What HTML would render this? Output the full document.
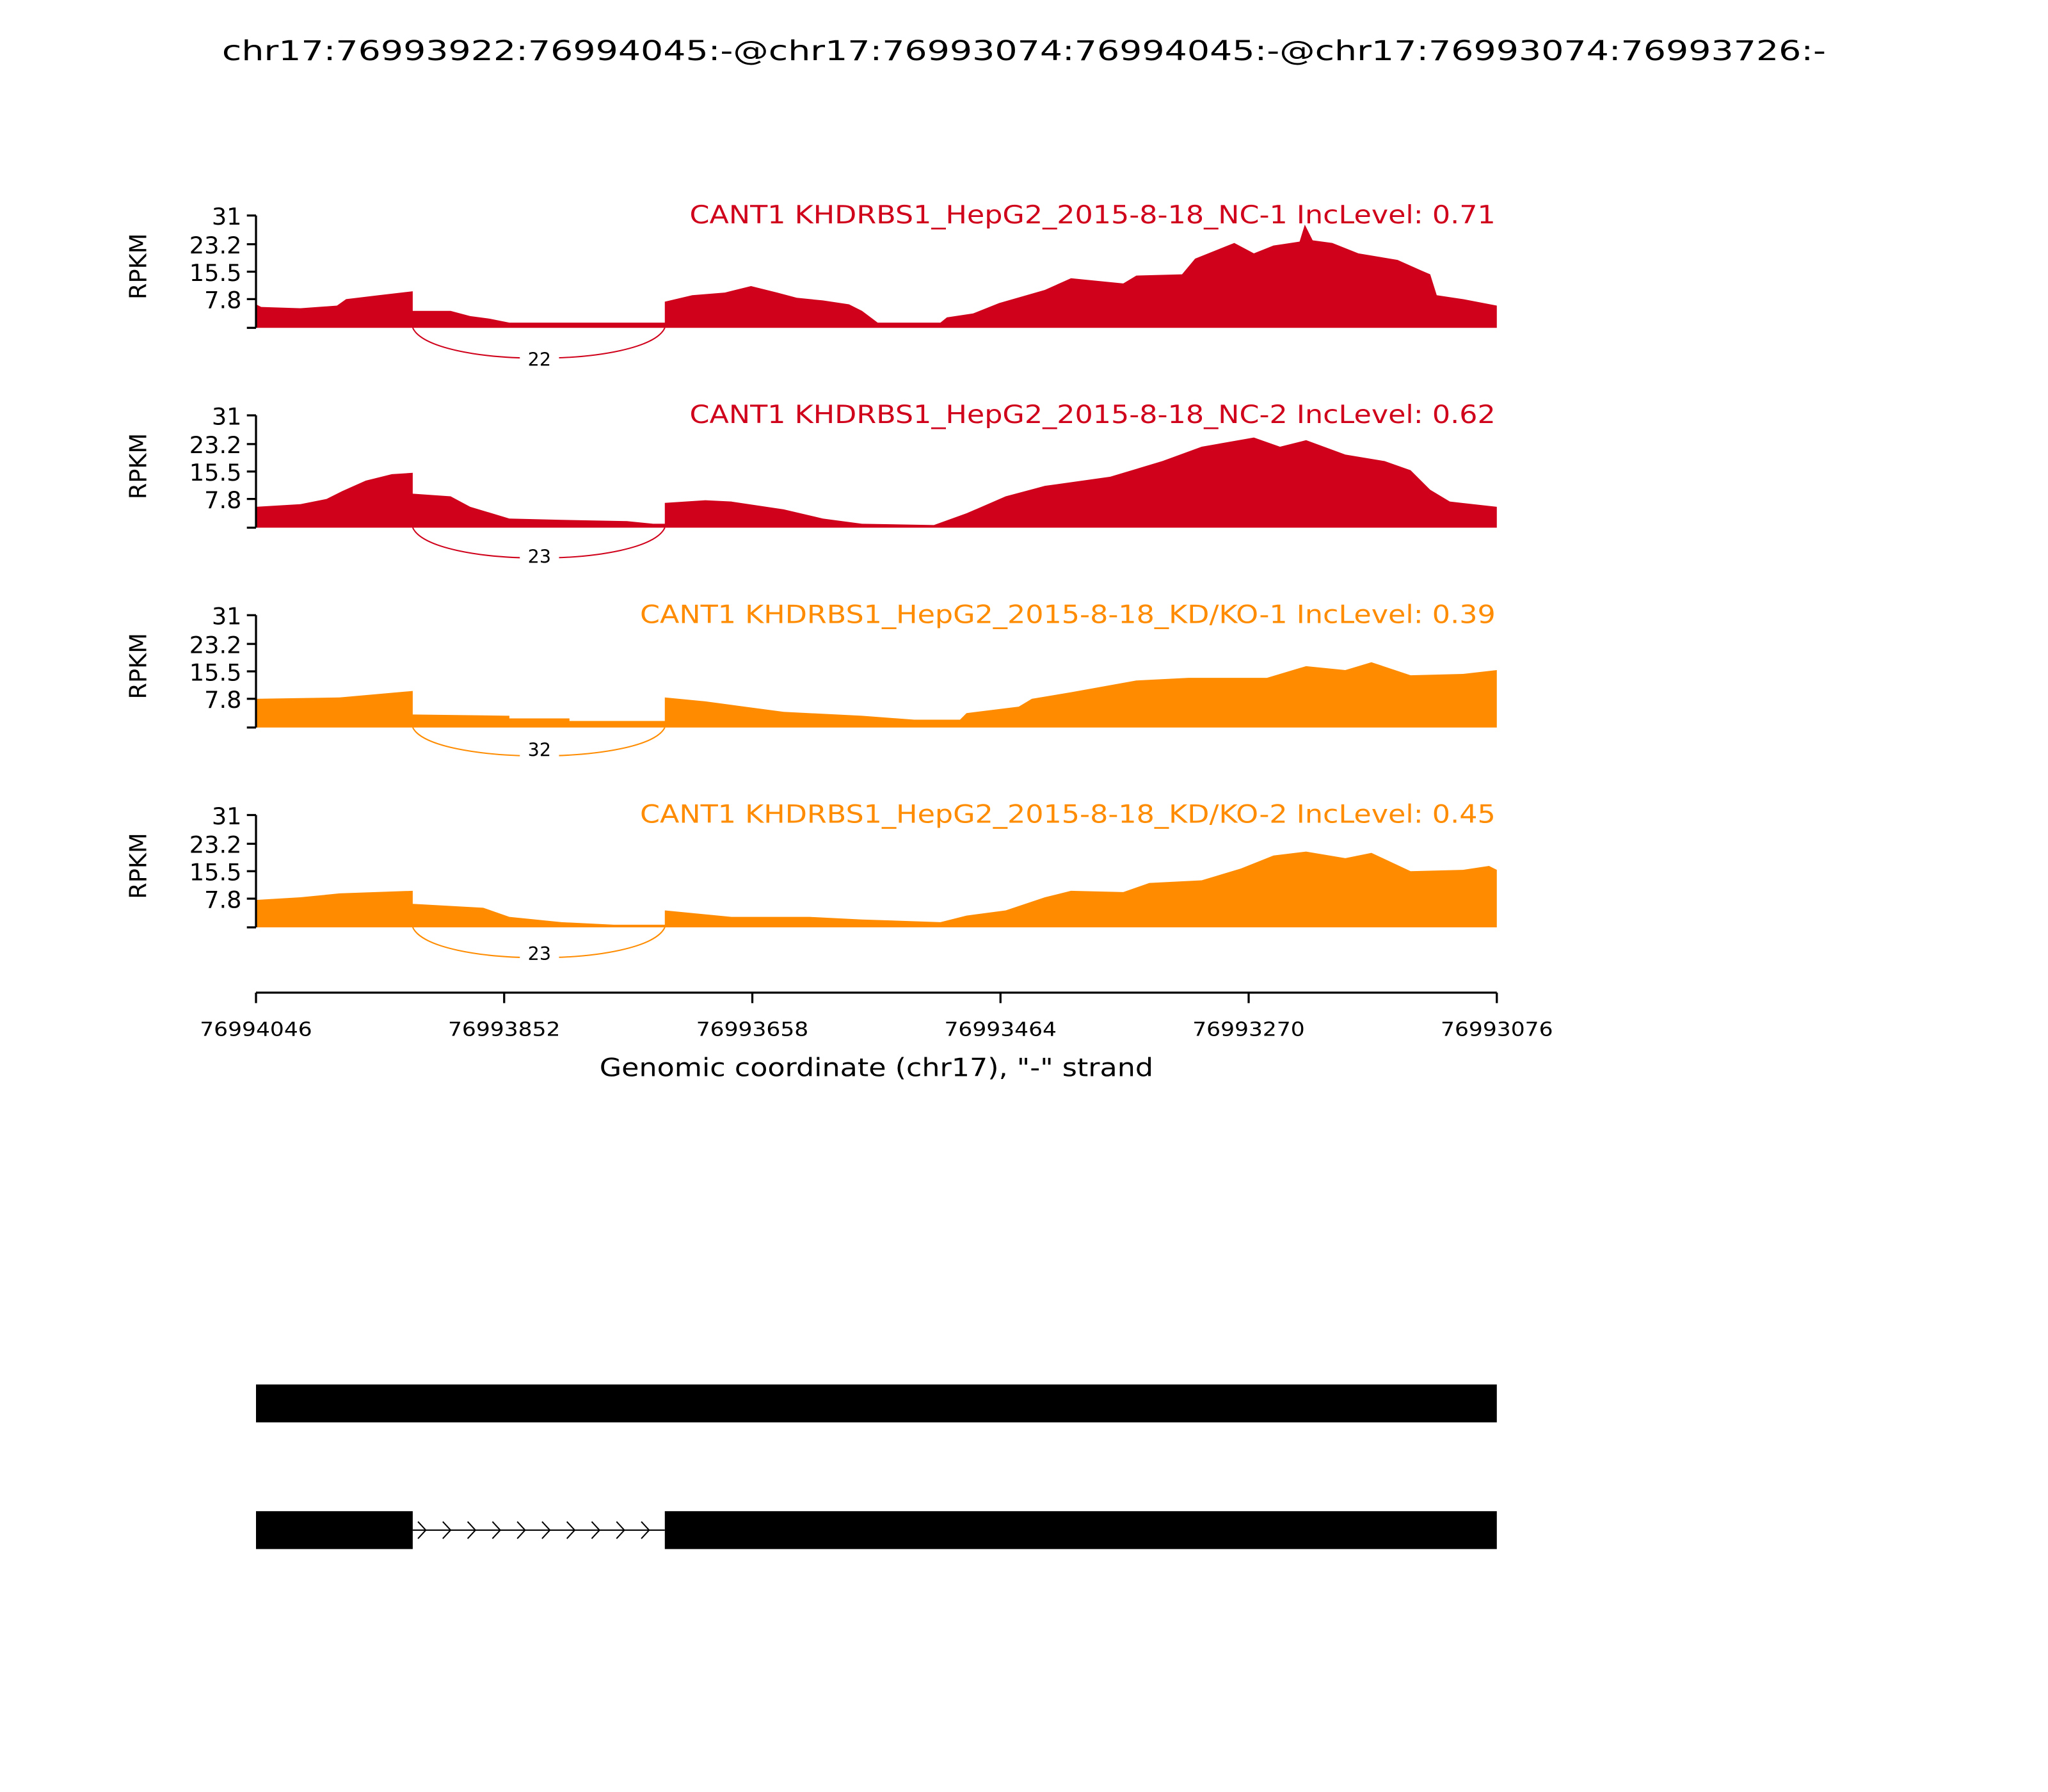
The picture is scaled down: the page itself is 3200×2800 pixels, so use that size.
<!DOCTYPE html>
<html><head><meta charset="utf-8"><style>html,body{margin:0;padding:0;background:#fff}svg{display:block}</style></head>
<body>
<svg xmlns="http://www.w3.org/2000/svg" width="3200" height="2800" viewBox="0 0 1568 1372" font-family="DejaVu Sans, Liberation Sans, sans-serif">
<rect width="1568" height="1372" fill="#fff"/>
<text x="170" y="46" font-size="21" textLength="1228" lengthAdjust="spacingAndGlyphs">chr17:76993922:76994045:-@chr17:76993074:76994045:-@chr17:76993074:76993726:-</text>

<!-- Panel 1 -->
<g>
<path fill="#d0021b" d="M196,251 L196,233 L200,235 L230,236 L258,234 L265,229 L290,226 L316,223 L316,238 L345,238 L360,242 L375,244 L390,247 L500,247 L509,247 L509,231 L530,226 L555,224 L575,219 L595,224 L610,228 L630,230 L650,233 L660,238 L672,247 L720,247 L725,243 L745,240 L765,232 L800,222 L820,213 L860,217 L870,211 L905,210 L915,198 L945,186 L960,194 L975,188 L995,185 L999,172 L1005,184 L1020,186 L1040,194 L1070,199 L1088,207 L1095,210 L1100,226 L1120,229 L1146,234 L1146,251 Z"/>
<path d="M316,251 C330,282 495,282 509,251" fill="none" stroke="#d0021b" stroke-width="1"/>
<rect x="398" y="266" width="30" height="16" fill="#fff"/>
<text x="413" y="280" font-size="14" text-anchor="middle">22</text>
<text x="528" y="171" font-size="19" fill="#d0021b" textLength="617" lengthAdjust="spacingAndGlyphs">CANT1 KHDRBS1_HepG2_2015-8-18_NC-1 IncLevel: 0.71</text>
</g>
<!-- Panel 2 -->
<g>
<path fill="#d0021b" d="M196,404 L196,388 L230,386 L250,382 L262,376 L280,368 L300,363 L316,362 L316,378 L345,380 L360,388 L390,397 L430,398 L480,399 L500,401 L509,401 L509,385 L540,383 L560,384 L600,390 L630,397 L660,401 L715,402 L740,393 L770,380 L800,372 L850,365 L890,353 L920,342 L960,335 L980,342 L1000,337 L1030,348 L1060,353 L1080,360 L1095,375 L1110,384 L1146,388 L1146,404 Z"/>
<path d="M316,404 C330,435 495,435 509,404" fill="none" stroke="#d0021b" stroke-width="1"/>
<rect x="398" y="417" width="30" height="16" fill="#fff"/>
<text x="413" y="431" font-size="14" text-anchor="middle">23</text>
<text x="528" y="324" font-size="19" fill="#d0021b" textLength="617" lengthAdjust="spacingAndGlyphs">CANT1 KHDRBS1_HepG2_2015-8-18_NC-2 IncLevel: 0.62</text>
</g>
<!-- Panel 3 -->
<g>
<path fill="#ff8c00" d="M196,557 L196,535 L260,534 L316,529 L316,547 L390,548 L390,550 L436,550 L436,552 L509,552 L509,534 L540,537 L570,541 L600,545 L660,548 L700,551 L735,551 L740,546 L780,541 L790,535 L820,530 L870,521 L910,519 L970,519 L1000,510 L1030,513 L1050,507 L1080,517 L1120,516 L1146,513 L1146,557 Z"/>
<path d="M316,557 C330,586 495,586 509,557" fill="none" stroke="#ff8c00" stroke-width="1"/>
<rect x="398" y="565" width="30" height="16" fill="#fff"/>
<text x="413" y="579" font-size="14" text-anchor="middle">32</text>
<text x="490" y="477" font-size="19" fill="#ff8c00" textLength="655" lengthAdjust="spacingAndGlyphs">CANT1 KHDRBS1_HepG2_2015-8-18_KD/KO-1 IncLevel: 0.39</text>
</g>
<!-- Panel 4 -->
<g>
<path fill="#ff8c00" d="M196,710 L196,689 L230,687 L260,684 L316,682 L316,692 L370,695 L390,702 L430,706 L470,708 L509,708 L509,697 L560,702 L620,702 L660,704 L720,706 L740,701 L770,697 L800,687 L820,682 L860,683 L880,676 L920,674 L950,665 L975,655 L1000,652 L1030,657 L1050,653 L1080,667 L1120,666 L1140,663 L1146,666 L1146,710 Z"/>
<path d="M316,710 C330,741 495,741 509,710" fill="none" stroke="#ff8c00" stroke-width="1"/>
<rect x="398" y="721" width="30" height="16" fill="#fff"/>
<text x="413" y="735" font-size="14" text-anchor="middle">23</text>
<text x="490" y="630" font-size="19" fill="#ff8c00" textLength="655" lengthAdjust="spacingAndGlyphs">CANT1 KHDRBS1_HepG2_2015-8-18_KD/KO-2 IncLevel: 0.45</text>
</g>

<!-- Y axes -->
<g stroke="#000" stroke-width="1.6" fill="none">
<path d="M196,165V251 M189,165H196 M189,187H196 M189,208H196 M189,229H196 M189,251H196"/>
<path d="M196,318V404 M189,318H196 M189,340H196 M189,361H196 M189,382H196 M189,404H196"/>
<path d="M196,471V557 M189,471H196 M189,493H196 M189,514H196 M189,535H196 M189,557H196"/>
<path d="M196,624V710 M189,624H196 M189,646H196 M189,667H196 M189,688H196 M189,710H196"/>
</g>
<g font-size="18" text-anchor="end">
<text x="185" y="172">31</text><text x="185" y="194">23.2</text><text x="185" y="215">15.5</text><text x="185" y="236">7.8</text>
<text x="185" y="325">31</text><text x="185" y="347">23.2</text><text x="185" y="368">15.5</text><text x="185" y="389">7.8</text>
<text x="185" y="478">31</text><text x="185" y="500">23.2</text><text x="185" y="521">15.5</text><text x="185" y="542">7.8</text>
<text x="185" y="631">31</text><text x="185" y="653">23.2</text><text x="185" y="674">15.5</text><text x="185" y="695">7.8</text>
</g>
<g font-size="18" text-anchor="middle">
<text transform="translate(112,204) rotate(-90)">RPKM</text>
<text transform="translate(112,357) rotate(-90)">RPKM</text>
<text transform="translate(112,510) rotate(-90)">RPKM</text>
<text transform="translate(112,663) rotate(-90)">RPKM</text>
</g>

<!-- X axis -->
<g stroke="#000" stroke-width="1.6">
<path d="M196,760H1146 M196,760V768 M386,760V768 M576,760V768 M766,760V768 M956,760V768 M1146,760V768" fill="none"/>
</g>
<g font-size="15">
<text x="153" y="793" textLength="86" lengthAdjust="spacingAndGlyphs">76994046</text>
<text x="343" y="793" textLength="86" lengthAdjust="spacingAndGlyphs">76993852</text>
<text x="533" y="793" textLength="86" lengthAdjust="spacingAndGlyphs">76993658</text>
<text x="723" y="793" textLength="86" lengthAdjust="spacingAndGlyphs">76993464</text>
<text x="913" y="793" textLength="86" lengthAdjust="spacingAndGlyphs">76993270</text>
<text x="1103" y="793" textLength="86" lengthAdjust="spacingAndGlyphs">76993076</text>
</g>
<text x="459" y="824" font-size="19" textLength="424" lengthAdjust="spacingAndGlyphs">Genomic coordinate (chr17), "-" strand</text>

<!-- Gene models -->
<rect x="196" y="1060" width="950" height="29" fill="#000"/>
<rect x="196" y="1157" width="120" height="29" fill="#000"/>
<rect x="509" y="1157" width="637" height="29" fill="#000"/>
<line x1="316" y1="1171.5" x2="509" y2="1171.5" stroke="#000" stroke-width="1"/>
<g stroke="#000" stroke-width="1" fill="none">
<path d="M320,1165l6,6.5l-6,6.5 M339,1165l6,6.5l-6,6.5 M358,1165l6,6.5l-6,6.5 M377,1165l6,6.5l-6,6.5 M396,1165l6,6.5l-6,6.5 M415,1165l6,6.5l-6,6.5 M434,1165l6,6.5l-6,6.5 M453,1165l6,6.5l-6,6.5 M472,1165l6,6.5l-6,6.5 M491,1165l6,6.5l-6,6.5"/>
</g>
</svg>
</body></html>
